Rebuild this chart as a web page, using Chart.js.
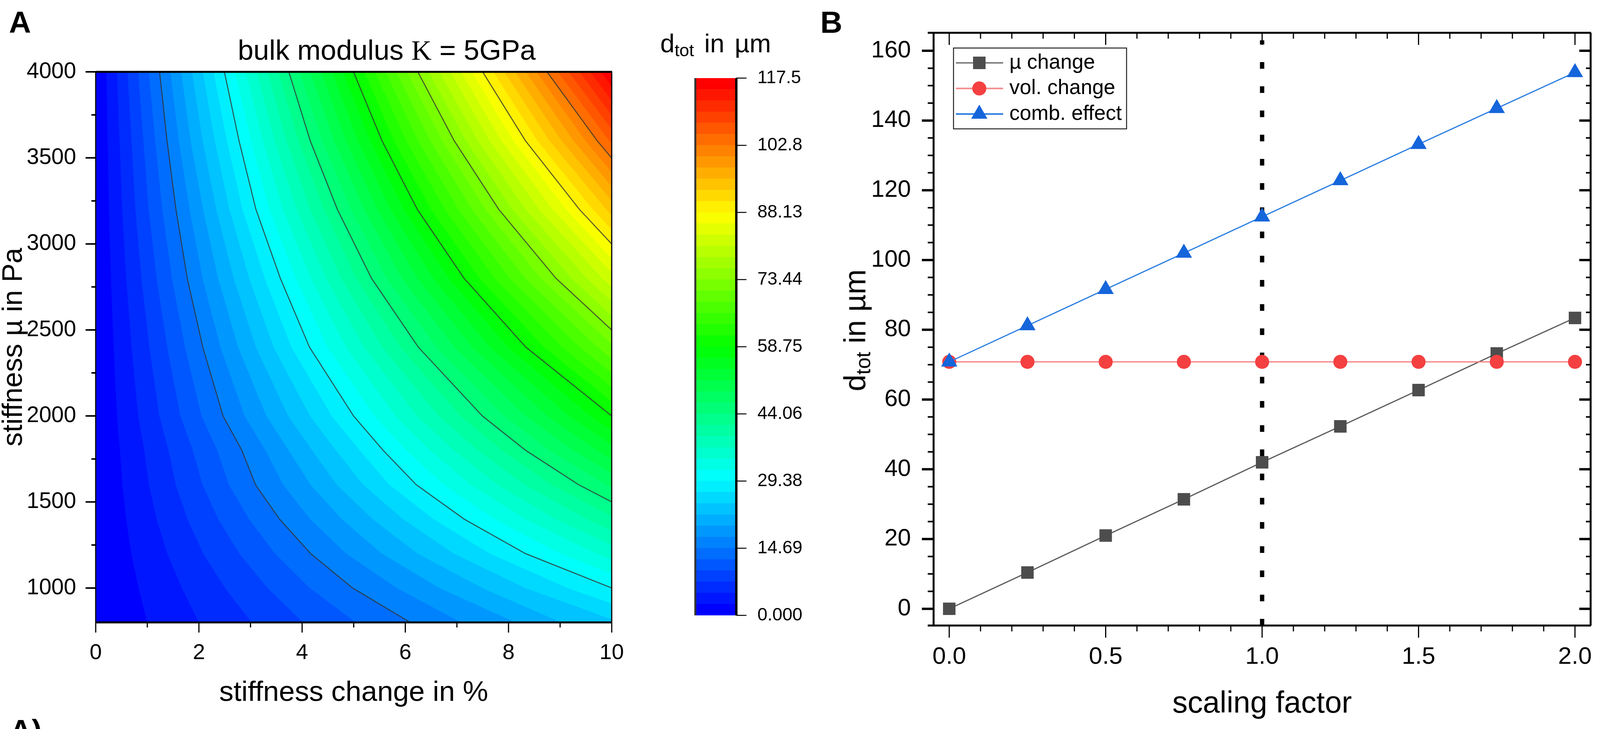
<!DOCTYPE html>
<html lang="en">
<head>
    <meta charset="UTF-8">
    <title>Bulk modulus contour and scaling factor</title>
    <script src="https://cdn.jsdelivr.net/npm/chart.js"></script>
    <style>
        html, body { margin: 0; background: #fff; overflow: hidden; }
        #page { position: relative; height: 1867px; overflow: hidden; font-family: "Liberation Sans", Arial, sans-serif; color: #000; }
        #page canvas { position: absolute; top: 0; }
        .txt { position: absolute; white-space: nowrap; line-height: 1; }
        .letter { font-weight: bold; font-size: 78px; }
        .mid { transform: translateX(-50%); }
        sub { font-size: 0.68em; vertical-align: baseline; position: relative; top: 0.22em; }
    </style>
</head>
<body>
<div id="page">
    <canvas id="contourChart"></canvas>
    <canvas id="colorbarChart"></canvas>
    <canvas id="scalingChart"></canvas>
    <div class="txt letter" data-x="25" style="top:18px">A</div>
    <div class="txt letter" data-x="2333" style="top:18px">B</div>
    <div class="txt letter" data-x="28" style="top:1832px">A)</div>
    <div class="txt mid" data-x="1100" style="top:92px;font-size:72px">bulk modulus <span style="font-family:'Liberation Serif'">K</span> = 5GPa</div>
    <div class="txt mid" data-x="2035" style="top:78px;font-size:66px;word-spacing:8px">d<sub>tot</sub> in µm</div>
    <div class="txt" data-x="2432" style="top:846px;font-size:77px;transform:translate(-50%,-50%) rotate(-90deg)">d<sub>tot</sub> in µm</div>
</div>
<script>
    // panel A: d_tot
    const stiffnessChange = [0, 1, 2, 3, 4, 5, 6, 7, 8, 9, 10];
    const stiffnessMu = [800, 1000, 1200, 1400, 1600, 1800, 2000, 2400, 2800, 3200, 3600, 4000];
    const dtotByMu = [
        [0, 2.45, 4.90, 7.30, 9.75, 12.15, 14.45, 16.95, 19.20, 22.00, 24.00],
        [0, 2.95, 5.85, 8.80, 11.80, 14.75, 17.60, 20.60, 23.50, 26.50, 29.38],
        [0, 3.55, 7.05, 10.55, 14.10, 17.65, 21.20, 24.70, 28.20, 31.80, 35.30],
        [0, 4.15, 8.25, 12.35, 16.50, 20.50, 24.65, 28.80, 32.90, 37.05, 41.10],
        [0, 4.75, 9.45, 14.25, 18.80, 23.60, 28.40, 33.00, 37.70, 42.40, 47.00],
        [0, 5.20, 10.40, 15.55, 21.00, 26.30, 31.70, 37.00, 42.30, 47.60, 52.90],
        [0, 5.95, 11.95, 17.80, 23.60, 29.40, 35.40, 41.20, 47.00, 52.90, 58.75],
        [0, 7.05, 14.15, 21.30, 28.40, 35.30, 42.30, 49.30, 56.40, 63.40, 70.50],
        [0, 8.30, 16.55, 24.70, 32.80, 41.20, 49.50, 57.60, 65.90, 74.10, 82.30],
        [0, 9.55, 18.80, 28.40, 37.70, 47.00, 56.60, 65.80, 75.20, 84.60, 94.00],
        [0, 10.60, 21.30, 31.70, 42.40, 53.00, 63.50, 74.00, 84.70, 95.20, 105.80],
        [0, 11.90, 23.60, 35.30, 47.10, 58.80, 70.60, 82.30, 94.00, 105.80, 117.50]
    ];

    // colour scale
    const colorbarValues = [0, 14.69, 29.38, 44.06, 58.75, 73.44, 88.13, 102.8, 117.5];
    const colorbarLabels = ['0.000', '14.69', '29.38', '44.06', '58.75', '73.44', '88.13', '102.8', '117.5'];
    const contourLevels = [14.69, 29.38, 44.06, 58.75, 73.44, 88.13, 102.8];
    const bandsPerLevel = 6;
    const rainbowStops = [[0, 0, 255], [0, 255, 255], [0, 255, 0], [255, 255, 0], [255, 0, 0]];

    // panel B
    const scalingFactor = [0, 0.25, 0.5, 0.75, 1, 1.25, 1.5, 1.75, 2];
    const muChange = [0, 10.4, 21, 31.4, 42, 52.3, 62.7, 73.2, 83.4];
    const volChange = [70.8, 70.8, 70.8, 70.8, 70.8, 70.8, 70.8, 70.8, 70.8];
    const combEffect = [70.8, 81.2, 91.6, 102, 112.4, 122.8, 133.2, 143.5, 153.8];
    const markerLineX = [1, 1];
    const markerLineY = [-4.8, 163];

    const xMajorA = [0, 2, 4, 6, 8, 10];
    const xMinorA = [1, 3, 5, 7, 9];
    const yMajorA = [1000, 1500, 2000, 2500, 3000, 3500, 4000];
    const yMinorA = [1250, 1750, 2250, 2750, 3250, 3750];
    const xMajorB = [0, 0.5, 1, 1.5, 2];
    const xMinorB = [0.1, 0.2, 0.3, 0.4, 0.6, 0.7, 0.8, 0.9, 1.1, 1.2, 1.3, 1.4, 1.6, 1.7, 1.8, 1.9];
    const yMajorB = [0, 20, 40, 60, 80, 100, 120, 140, 160];
    const yMinorB = [5, 10, 15, 25, 30, 35, 45, 50, 55, 65, 70, 75, 85, 90, 95, 105, 110, 115, 125, 130, 135, 145, 150, 155];

    // the figure is 4550 wide; squeeze the horizontal layout if the window is narrower
    const fitX = Math.min(1, window.innerWidth / 4550);
    const px = v => Math.round(v * fitX);

    document.getElementById('page').style.width = px(4550) + 'px';
    document.querySelectorAll('.txt').forEach(el => { el.style.left = px(+el.dataset.x) + 'px'; });

    Chart.defaults.font.family = '"Liberation Sans", Arial, sans-serif';
    Chart.defaults.color = '#000';
    Chart.defaults.animation = false;
    Chart.defaults.responsive = false;
    Chart.defaults.devicePixelRatio = 1;
    Chart.defaults.plugins.legend.display = false;
    Chart.defaults.plugins.tooltip.enabled = false;

    function bandColor(i, total) {
        const t = i / (total - 1) * (rainbowStops.length - 1);
        const k = Math.min(Math.floor(t), rainbowStops.length - 2);
        const f = t - k;
        const c = rainbowStops[k].map((v, n) => Math.round(v + (rainbowStops[k + 1][n] - v) * f));
        return 'rgb(' + c.join(',') + ')';
    }

    // walk up the rows of the table and collect where the level is crossed
    function isoLine(level) {
        const pts = [];
        const last = stiffnessChange.length - 1;
        dtotByMu.forEach((row, j) => {
            if (row[last] < level) return;
            if (j > 0 && dtotByMu[j - 1][last] < level) {
                const below = dtotByMu[j - 1][last];
                const f = (level - below) / (row[last] - below);
                pts.push({ x: stiffnessChange[last], y: stiffnessMu[j - 1] + f * (stiffnessMu[j] - stiffnessMu[j - 1]) });
            }
            for (let i = 0; i < last; i++) {
                if (row[i] <= level && level <= row[i + 1]) {
                    const f = (level - row[i]) / (row[i + 1] - row[i]);
                    pts.push({ x: stiffnessChange[i] + f * (stiffnessChange[i + 1] - stiffnessChange[i]), y: stiffnessMu[j] });
                    break;
                }
            }
        });
        return pts;
    }

    function isoRegion(level) {
        const xEnd = stiffnessChange[stiffnessChange.length - 1];
        const pts = isoLine(level);
        pts.push({ x: xEnd, y: stiffnessMu[stiffnessMu.length - 1] });
        if (pts[0].x < xEnd) pts.push({ x: xEnd, y: stiffnessMu[0] });
        return pts;
    }

    // ticks and frame lines, Origin style: different lengths for major and minor
    const axisFrame = {
        id: 'axisFrame',
        afterDatasetsDraw(chart, args, opts) {
            const ctx = chart.ctx;
            const a = chart.chartArea;
            ctx.save();
            ctx.strokeStyle = '#000';
            (opts.ticks || []).forEach(t => {
                ctx.lineWidth = t.width;
                ctx.beginPath();
                t.values.forEach(v => {
                    if (t.side === 'left' || t.side === 'right') {
                        const y = chart.scales.y.getPixelForValue(v);
                        const x0 = t.side === 'left' ? a.left : a.right;
                        ctx.moveTo(x0, y);
                        ctx.lineTo(x0 + t.len, y);
                    } else {
                        const x = chart.scales.x.getPixelForValue(v);
                        const y0 = t.side === 'top' ? a.top : a.bottom;
                        ctx.moveTo(x, y0);
                        ctx.lineTo(x, y0 + t.len);
                    }
                });
                ctx.stroke();
            });
            (opts.edges || []).forEach(e => {
                ctx.lineWidth = e.width;
                ctx.strokeStyle = e.color || '#000';
                ctx.beginPath();
                const over = e.over || 0;
                if (e.side === 'left' || e.side === 'right') {
                    const x = e.side === 'left' ? a.left : a.right;
                    ctx.moveTo(x, a.top);
                    ctx.lineTo(x, a.bottom);
                } else {
                    const y = e.side === 'top' ? a.top : a.bottom;
                    ctx.moveTo(a.left - over, y);
                    ctx.lineTo(a.right + 1, y);
                }
                ctx.stroke();
            });
            ctx.restore();
        }
    };

    // legend box inside panel B, symbols come from the datasets
    const boxLegend = {
        id: 'boxLegend',
        afterDraw(chart, args, opts) {
            const ctx = chart.ctx;
            ctx.save();
            ctx.fillStyle = '#fff';
            ctx.fillRect(opts.left, opts.top, opts.width, opts.height);
            ctx.strokeStyle = '#222';
            ctx.lineWidth = 2.5;
            ctx.strokeRect(opts.left, opts.top, opts.width, opts.height);
            opts.rows.forEach((idx, n) => {
                const ds = chart.data.datasets[idx];
                const y = opts.top + opts.firstRow + n * opts.rowStep;
                ctx.strokeStyle = opts.lineColors[n];
                ctx.lineWidth = 4;
                ctx.beginPath();
                ctx.moveTo(opts.left + 6, y);
                ctx.lineTo(opts.left + 127, y);
                ctx.stroke();
                ctx.fillStyle = ds.pointBackgroundColor;
                ctx.strokeStyle = ds.pointBackgroundColor;
                ctx.lineWidth = 0;
                Chart.helpers.drawPoint(ctx, { pointStyle: ds.pointStyle, radius: ds.pointRadius, borderWidth: 0, rotation: 0 }, opts.left + 66, y);
                ctx.fillStyle = '#000';
                ctx.font = '53px "Liberation Sans"';
                ctx.textBaseline = 'middle';
                ctx.textAlign = 'left';
                ctx.fillText(ds.label, opts.left + 143, y);
            });
            ctx.restore();
        }
    };

    // fixed axis box, and no extra room for labels hanging over the plot ends
    function fixedBox(width, height) {
        return s => {
            if (width) s.width = width;
            if (height) s.height = height;
            s.paddingLeft = s.paddingRight = s.paddingTop = s.paddingBottom = 0;
        };
    }

    function sized(id, left, right) {
        const c = document.getElementById(id);
        c.style.left = px(left) + 'px';
        c.width = px(right) - px(left);
        c.height = 1867;
        return c.getContext('2d');
    }

    // ---- panel A
    const bandCount = (colorbarValues.length - 1) * bandsPerLevel;
    const bandStep = colorbarValues[colorbarValues.length - 1] / bandCount;
    const contourSets = [];
    for (let b = 0; b < bandCount; b++) {
        contourSets.push({
            data: isoRegion(b * bandStep),
            showLine: true,
            fill: 'shape',
            backgroundColor: bandColor(b, bandCount),
            borderWidth: 0,
            pointRadius: 0,
            order: 100 - b / bandCount
        });
    }
    contourLevels.forEach(level => {
        contourSets.push({
            data: isoLine(level),
            showLine: true,
            fill: false,
            borderColor: 'rgba(50,50,50,0.85)',
            borderWidth: 2.5,
            pointRadius: 0,
            order: 1
        });
    });

    new Chart(sized('contourChart', 0, 1800), {
        type: 'scatter',
        data: { datasets: contourSets },
        options: {
            layout: { padding: { top: 184, right: px(1800) - px(1740), left: 0, bottom: 0 } },
            scales: {
                x: {
                    type: 'linear', min: 0, max: 10,
                    afterBuildTicks: s => { s.ticks = xMajorA.map(v => ({ value: v })); },
                    afterFit: fixedBox(0, 273),
                    grid: { display: false }, border: { display: false },
                    ticks: { font: { size: 56 }, padding: 37, maxRotation: 0, autoSkip: false, callback: v => String(v) },
                    title: { display: true, text: 'stiffness change in %', font: { size: 73, lineHeight: 1 }, padding: { top: 0, bottom: 56 } }
                },
                y: {
                    type: 'linear', min: 800, max: 4000,
                    afterBuildTicks: s => { s.ticks = yMajorA.map(v => ({ value: v })); },
                    afterFit: fixedBox(px(272), 0),
                    grid: { display: false }, border: { display: false },
                    ticks: { font: { size: 57 }, padding: 42, autoSkip: false, callback: v => String(v) },
                    title: { display: true, text: 'stiffness µ in Pa', font: { size: 72, lineHeight: 1 }, padding: { top: 0, bottom: 0 } }
                }
            },
            plugins: {
                axisFrame: {
                    ticks: [
                        { side: 'left', values: yMajorA, len: -26, width: 4 },
                        { side: 'left', values: yMinorA, len: -11, width: 4 },
                        { side: 'bottom', values: xMajorA, len: 26, width: 3 },
                        { side: 'bottom', values: xMinorA, len: 13, width: 3 }
                    ],
                    edges: [
                        { side: 'left', width: 3 }, { side: 'right', width: 3 },
                        { side: 'top', width: 5 }, { side: 'bottom', width: 5 }
                    ]
                }
            }
        },
        plugins: [axisFrame]
    });

    // ---- colour bar, one stacked bar per band
    const colorbarSets = [];
    for (let b = 0; b < bandCount; b++) {
        colorbarSets.push({ data: [bandStep], backgroundColor: bandColor(b, bandCount), barPercentage: 1, categoryPercentage: 1, borderWidth: 0 });
    }
    new Chart(sized('colorbarChart', 1900, 2300), {
        type: 'bar',
        data: { labels: ['dtot'], datasets: colorbarSets },
        options: {
            layout: { padding: { top: 200, left: px(1977) - px(1900), right: 0, bottom: 291 } },
            scales: {
                x: { stacked: true, display: false },
                y: {
                    stacked: true, position: 'right', min: 0, max: 117.5,
                    afterBuildTicks: s => { s.ticks = colorbarValues.map(v => ({ value: v })); },
                    afterFit: fixedBox(px(2300) - px(2094), 0),
                    grid: { display: false }, border: { display: false },
                    ticks: { font: { size: 46 }, padding: 46, autoSkip: false, callback: (v, i) => colorbarLabels[i] }
                }
            },
            plugins: {
                axisFrame: {
                    ticks: [{ side: 'right', values: colorbarValues, len: 26, width: 2.5 }],
                    edges: [{ side: 'left', width: 5, color: '#333' }, { side: 'right', width: 6 }]
                }
            }
        },
        plugins: [axisFrame]
    });

    // ---- panel B
    const pairs = (xs, ys) => xs.map((x, i) => ({ x: x, y: ys[i] }));
    new Chart(sized('scalingChart', 2300, 4550), {
        type: 'scatter',
        data: {
            datasets: [
                { label: 'µ change', data: pairs(scalingFactor, muChange), showLine: true, borderColor: '#5a5a5a', borderWidth: 3, pointStyle: 'rect', pointRadius: 22.6, pointBorderWidth: 0, pointBackgroundColor: '#4d4d4d', order: 3 },
                { label: 'vol. change', data: pairs(scalingFactor, volChange), showLine: true, borderColor: '#f27c7c', borderWidth: 3, pointStyle: 'circle', pointRadius: 18, pointBorderWidth: 0, pointBackgroundColor: '#f44040', order: 2 },
                { label: 'comb. effect', data: pairs(scalingFactor, combEffect), showLine: true, borderColor: '#2a7de1', borderWidth: 3, pointStyle: 'triangle', pointRadius: 24, pointBorderWidth: 0, pointBackgroundColor: '#1565db', order: 1 },
                { label: 'marker', data: pairs(markerLineX, markerLineY), showLine: true, borderColor: '#000', borderWidth: 11, borderDash: [17, 45], pointRadius: 0, order: 4 }
            ]
        },
        options: {
            layout: { padding: { top: 84, right: px(4550) - px(4540), left: 0, bottom: 0 } },
            scales: {
                x: {
                    type: 'linear', min: -0.05, max: 2.05,
                    afterBuildTicks: s => { s.ticks = xMajorB.map(v => ({ value: v })); },
                    afterFit: fixedBox(0, 265),
                    grid: { display: false }, border: { display: false },
                    ticks: { font: { size: 62 }, padding: 36, maxRotation: 0, autoSkip: false, callback: v => v.toFixed(1) },
                    title: { display: true, text: 'scaling factor', font: { size: 78, lineHeight: 1 }, padding: { top: 0, bottom: 25 } }
                },
                y: {
                    type: 'linear', min: -4.8, max: 165.15,
                    afterBuildTicks: s => { s.ticks = yMajorB.map(v => ({ value: v })); },
                    afterFit: fixedBox(px(2655) - px(2300), 0),
                    grid: { display: false }, border: { display: false },
                    ticks: { font: { size: 61 }, padding: 50, autoSkip: false, callback: v => String(v) }
                }
            },
            plugins: {
                axisFrame: {
                    ticks: [
                        { side: 'left', values: yMajorB, len: -30, width: 6 },
                        { side: 'left', values: yMinorB, len: -15, width: 4 },
                        { side: 'right', values: yMajorB, len: -29, width: 6 },
                        { side: 'right', values: yMinorB, len: -12, width: 4 },
                        { side: 'bottom', values: xMajorB, len: 31, width: 3 },
                        { side: 'bottom', values: xMinorB, len: 15, width: 3 },
                        { side: 'top', values: xMajorB, len: 31, width: 3 },
                        { side: 'top', values: xMinorB, len: 15, width: 3 }
                    ],
                    edges: [
                        { side: 'left', width: 5 }, { side: 'right', width: 5 },
                        { side: 'top', width: 5, over: 15 }, { side: 'bottom', width: 5, over: 15 }
                    ]
                },
                boxLegend: {
                    left: px(2712) - px(2300), top: 123, width: 443, height: 207,
                    firstRow: 38, rowStep: 65.5, rows: [0, 1, 2],
                    lineColors: ['#808080', '#f58a8a', '#2a7de1']
                }
            }
        },
        plugins: [axisFrame, boxLegend]
    });
</script>
</body>
</html>
